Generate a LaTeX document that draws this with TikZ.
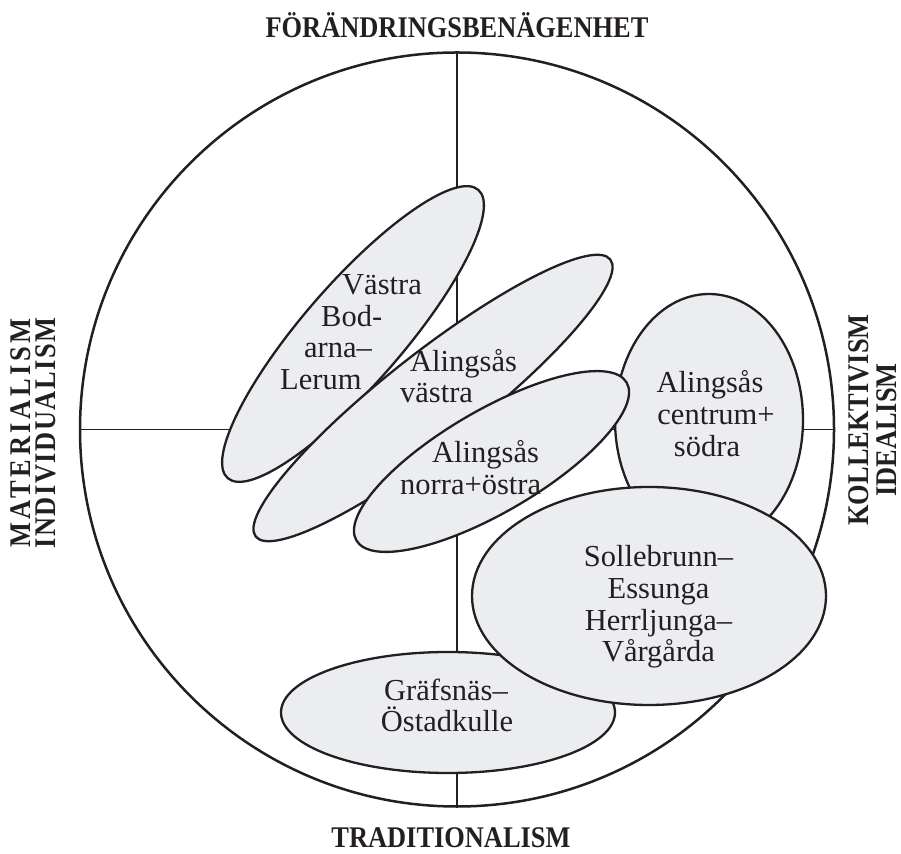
\documentclass[tikz,border=0pt]{standalone}
\usepackage{fontspec}
\setmainfont{Liberation Serif}
\newfontfamily\polefont[FakeStretch=0.88]{Liberation Serif}
\usetikzlibrary{positioning}

\definecolor{blobgray}{RGB}{236,237,240}
\definecolor{inkblack}{RGB}{35,31,32}

\begin{document}
\begin{tikzpicture}[
  x=1pt, y=1pt,
  rim/.style  ={draw=inkblack, line width=2.5pt, circle, minimum size=754pt, inner sep=0pt},
  axis/.style ={draw=inkblack, line width=1.9pt},
  blob/.style ={draw=inkblack, fill=blobgray, line width=2.3pt},
  lbl/.style  ={inner sep=0pt, text=inkblack, font=\fontsize{30.5}{31.7}\selectfont},
  pole/.style ={inner sep=0pt, text=inkblack, font=\polefont\fontsize{30}{32}\selectfont\bfseries},
]
\useasboundingbox (0,0) rectangle (901,853);

% ============================ FRAME =================================
\node[rim] (ring) at (457,423.5) {};
\draw[axis] (ring.north) -- (ring.south);
\draw[axis] (ring.west) -- (ring.east);

% ============================ GROUPS ================================
% Vastra Bodarna--Lerum
\draw[blob, shift={(353,519)}, rotate=49] (0,0) ellipse [x radius=191, y radius=50];
% Alingsas vastra
\draw[blob, shift={(433,455)}, rotate=38] (0,0) ellipse [x radius=225, y radius=46];
% Alingsas centrum+sodra
\draw[blob] (709,433) ellipse [x radius=94, y radius=126];
% Alingsas norra+ostra
\draw[blob, shift={(491.5,391.5)}, rotate=30.3] (0,0) ellipse [x radius=156.5, y radius=51];
% Grafsnas--Ostadkulle
\draw[blob] (448,140.5) ellipse [x radius=167, y radius=60.5];
% Sollebrunn--Essunga, Herrljunga--Vargarda
\draw[blob] (649,257) ellipse [x radius=177, y radius=109];

% ============================ LABELS ================================
\node[lbl, anchor=base west] (vb1) at (342,558) {Västra};
\node[lbl, anchor=base west] (vb2) at (321,526) {Bod-};
\node[lbl, anchor=base west] (vb3) at (304,495) {arna–};
\node[lbl, anchor=base west] (vb4) at (280,463) {Lerum};

\node[lbl, anchor=base west] (av1) at (410,481) {Alingsås};
\node[lbl, anchor=base west] (av2) at (400,450) {västra};

\node[lbl, anchor=base west] (an1) at (432,390) {Alingsås};
\node[lbl, anchor=base west] (an2) at (400,358) {norra+östra};

\node[lbl, anchor=base] (ac1) at (710,460) {Alingsås};
\node[lbl, anchor=base] (ac2) at (716,428) {centrum+};
\node[lbl, anchor=base] (ac3) at (707,396) {södra};

\node[lbl, anchor=base] (se1) at (658.5,286) {Sollebrunn–};
\node[lbl, anchor=base] (se2) at (658.5,254.3) {Essunga};
\node[lbl, anchor=base] (se3) at (658.5,222.6) {Herrljunga–};
\node[lbl, anchor=base] (se4) at (658.5,191) {Vårgårda};

\node[lbl, anchor=base] (go1) at (446,152) {Gräfsnäs–};
\node[lbl, anchor=base] (go2) at (447,121) {Östadkulle};

% ============================ POLES =================================
\node[pole, anchor=base] (north) at (457,815) {FÖRÄNDRINGSBENÄGENHET};
\node[pole, anchor=base] (south) at (451,6) {TRADITIONALISM};
\node[pole, anchor=base, rotate=90] (west1) at (31,420)
  {\addfontfeature{LetterSpace=12}MATERIALISM};
\node[pole, anchor=base, rotate=90] (west2) at (55,420)
  {\addfontfeature{LetterSpace=5}INDIVIDUALISM};
\node[pole, anchor=base, rotate=90] (east1) at (868,433) {KOLLEKTIVISM};
\node[pole, anchor=base, rotate=90] (east2) at (896,423) {IDEALISM};

\end{tikzpicture}
\end{document}
